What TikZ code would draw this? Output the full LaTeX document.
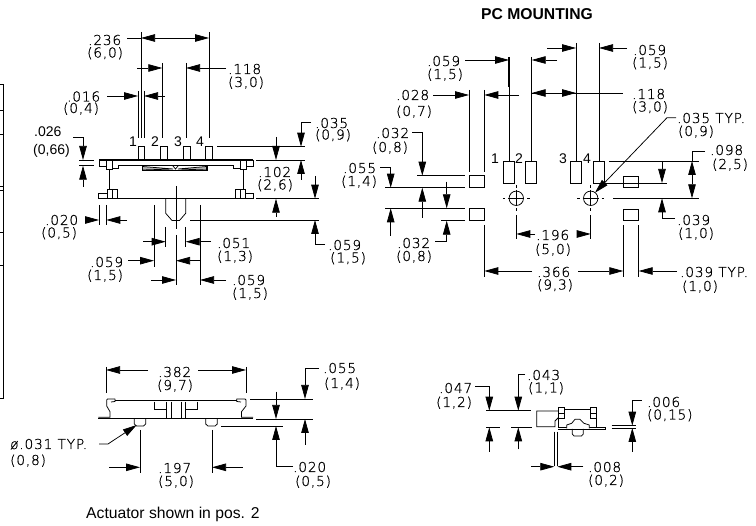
\documentclass[tikz,border=0pt]{standalone}
\usepackage{fontspec}
\setmainfont{Liberation Sans}
\newfontfamily\dimf[FakeBold=0.7,LetterSpace=6]{DejaVu Sans ExtraLight}
\usetikzlibrary{arrows.meta}
\tikzset{
  ln/.style={line width=0.75pt,black},
  thk/.style={line width=1.1pt,black},
  da/.style={line width=0.75pt,black,-{Triangle[length=14pt,width=7.5pt]}},
  dm/.style={anchor=base west,inner sep=0pt,font=\dimf\fontsize{13.7}{14}\selectfont},
  ar/.style={anchor=base west,inner sep=0pt,font=\fontsize{14}{14}\selectfont},
}
\newcommand{\lab}[4]{\node[dm] (#1) at (#2,#3) {#4};}
\newcommand{\arl}[4]{\node[ar] (#1) at (#2,#3) {#4};}
\begin{document}
\begin{tikzpicture}[x=1pt,y=-1pt]
\useasboundingbox (0,0) rectangle (756,526);
\fill[white] (0,0) rectangle (756,526);
% left edge
\draw[ln] (0,84)--(3,84)--(3,398)--(0,398);
\foreach \t in {110.7,134,186.7,190.7,232.7,265}{\draw[ln] (0,\t)--(3,\t);}

%% ---------- TOP LEFT VIEW
% body
\draw[thk] (99,160)--(253,160);
\draw[ln] (99,160)--(99,166)--(106,166);
\draw[ln] (253,160)--(253,166)--(246,166);
\draw[ln] (106,160) rectangle (112,169);
\draw[ln] (240,160) rectangle (246,169);
\draw[ln] (112,168.7)--(118.5,168.7)--(118.5,165)--(233,165)--(233,168.7)--(240,168.7);
% actuator
\draw[ln] (142,165) rectangle (207,170.7);
\draw[ln,fill=gray!60] (142.5,166.5)--(173,169)--(142.5,170)--cycle;
\draw[ln,fill=gray!60] (206.5,166.5)--(178,169)--(206.5,170)--cycle;
\draw[ln] (173,166)--(175.5,169)--(178,166);
% posts
\draw[ln] (109,169)--(109,189);
\draw[ln] (243,169)--(243,189);
% lower bar
\draw[thk] (98.5,198.7)--(253,198.7);
\draw[ln] (98.5,198.7)--(98.5,193)--(107,193);
\draw[ln] (253,198.7)--(253,193)--(245.7,193);
\draw[ln] (107,198.7)--(107,189)--(117,189)--(117,198.7);
\draw[ln] (112,189)--(112,198.7);
\draw[ln] (235.5,198.7)--(235.5,189)--(245.7,189)--(245.7,198.7);
\draw[ln] (240,189)--(240,198.7);
% pins
\foreach \xa in {138,160.3,183.5,205.7}{\draw[ln] (\xa,160)--(\xa,146.7)--(\xa+6.6,146.7)--(\xa+6.6,160);}
\arl{n1}{129}{147}{1}
\arl{n2}{151}{147}{2}
\arl{n3}{174}{147}{3}
\arl{n4}{196}{147}{4}
% lever
\draw[ln] (165.7,198.7)--(165.7,213.3)--(172,220.5)--(179.5,220.5)--(185.7,213.3)--(185.7,198.7);
\draw[ln] (176,186)--(176,229);
\draw[ln] (176,235)--(176,285);
% extension lines
\draw[ln] (141,32)--(141,138);
\draw[ln] (209,32)--(209,138);
\draw[ln] (162.3,63)--(162.3,138);
\draw[ln] (186,63)--(186,138);
\draw[ln] (138,91)--(138,138);
\draw[ln] (144,91)--(144,138);
% .236
\lab{t236}{88}{45}{.236}\lab{t236b}{87}{57.5}{(6,0)}
\draw[ln] (127,38)--(141,38);
\draw[da] (175,38)--(141,38);
\draw[da] (175,38)--(209,38);
% .118
\lab{t118}{228}{74}{.118}\lab{t118b}{228}{87}{(3,0)}
\draw[da] (137,68)--(162.3,68);
\draw[da] (226,68)--(186,68);
% .016
\lab{t016}{67}{101.5}{.016}\lab{t016b}{63}{113}{(0,4)}
\draw[da] (107,96)--(138,96);
\draw[da] (165,96)--(144,96);
% .026
\arl{t026}{34}{137}{.026}\arl{t026b}{33}{155}{(0,66)}
\draw[da] (73,137)--(83,137)--(83,160);
\draw[da] (83,187)--(83,165.7);
\draw[ln] (79,160)--(94,160);
\draw[ln] (79,165.7)--(94,165.7);
% .020
\lab{t020}{45}{225}{.020}\lab{t020b}{41}{237.5}{(0,5)}
\draw[ln] (99,205)--(99,225);
\draw[ln] (106.3,205)--(106.3,225);
\draw[da] (85,220)--(99,220);
\draw[da] (127,220)--(106.3,220);
% .051 .059
\draw[ln] (154,205)--(154,267);
\draw[ln] (200,205)--(200,285);
\draw[ln] (165.7,227)--(165.7,247);
\draw[ln] (185.7,227)--(185.7,247);
\lab{t051}{217}{248}{.051}\lab{t051b}{217}{261}{(1,3)}
\draw[da] (143,241.7)--(165.7,241.7);
\draw[da] (211,241.7)--(185.7,241.7);
\lab{t059a}{90}{267}{.059}\lab{t059ab}{87}{280}{(1,5)}
\draw[da] (128,260.7)--(154,260.7);
\draw[da] (200,260.7)--(176,260.7);
\lab{t059b}{232}{285}{.059}\lab{t059bb}{232}{298}{(1,5)}
\draw[da] (151,280)--(176,280);
\draw[da] (226,280)--(200,280);
% right side dims
\draw[ln] (217,146.7)--(305,146.7);
\draw[ln] (256,160)--(305,160);
\draw[ln] (256,198.7)--(319,198.7);
\draw[ln] (190,220)--(319,220);
\lab{t035}{315}{128}{.035}\lab{t035b}{315}{139.5}{(0,9)}
\draw[da] (311,122)--(301,122)--(301,146.7);
\draw[da] (301,180)--(301,160);
\draw[da] (276,137)--(276,160);
\draw[da] (276,217)--(276,198.7);
\lab{t102}{258}{177}{.102}\lab{t102b}{257}{189.5}{(2,6)}
\draw[da] (315,176)--(315,198.7);
\draw[da] (325,244)--(315,244)--(315,220);
\lab{t059c}{328}{250}{.059}\lab{t059cb}{330}{262.5}{(1,5)}

%% ---------- PC MOUNTING
\node[anchor=base,inner sep=0pt,font=\bfseries\fontsize{15.7}{16}\selectfont] (title) at (537,19.5) {PC MOUNTING};
\foreach \xa in {503,525.7,570.7,593}{\draw[ln] (\xa,161) rectangle (\xa+11,183);}
\arl{p1}{491}{164}{1}\arl{p2}{515}{164}{2}\arl{p3}{559}{164}{3}\arl{p4}{583}{164}{4}
% side pads
\foreach \xa/\ya/\yb in {469/175.5/187.7,469/208.3/220.5,623.3/176/187.7,623.3/209/220.5}{\draw[ln] (\xa,\ya) rectangle (\xa+15.4,\yb);}
% holes
\foreach \cx in {516.3,590.7}{
  \draw[ln] (\cx,198.3) circle (7.2);
  \draw[ln] (\cx-8,198.3)--(\cx+8,198.3);
  \draw[ln] (\cx,190)--(\cx,206.5);
  \draw[ln] (\cx-13.5,198.3)--(\cx-11,198.3);
  \draw[ln] (\cx+11,198.3)--(\cx+13.5,198.3);
  \draw[ln] (\cx,185)--(\cx,188);
  \draw[ln] (\cx,208.5)--(\cx,211.5);
  \draw[ln] (\cx,215)--(\cx,239);
}
% ext lines
\draw[ln] (469,90)--(469,172);
\draw[ln] (484.3,90)--(484.3,172);
\draw[thk] (509,57)--(509,87);
\draw[ln] (509,87)--(509,161);
\draw[ln] (531.7,57)--(531.7,161);
\draw[ln] (576,43)--(576,161);
\draw[ln] (599,43)--(599,161);
% .059 L
\lab{r059a}{427}{66}{.059}\lab{r059ab}{427}{79}{(1,5)}
\draw[da] (465,60)--(509,60);
\draw[da] (557,60)--(531.7,60);
% .059 R
\lab{r059b}{633}{55}{.059}\lab{r059bb}{632}{67.5}{(1,5)}
\draw[da] (547,48)--(576,48);
\draw[da] (627,48)--(599,48);
% .028
\lab{r028}{396}{100}{.028}\lab{r028b}{396}{116}{(0,7)}
\draw[da] (433,95)--(469,95);
\draw[da] (519,95)--(484.3,95);
% .118
\lab{r118}{632}{99}{.118}\lab{r118b}{632}{111.5}{(3,0)}
\draw[ln] (531.7,93)--(623,93);
\draw[da] (548,93)--(531.7,93);
\draw[da] (560,93)--(576,93);
% .035 TYP
\lab{r035}{677}{123}{.035 TYP.}\lab{r035b}{678}{136}{(0,9)}
\draw[da] (676,117.7)--(667,117.7)--(595,192.7);
% .098
\lab{r098}{710}{155}{.098}\lab{r098b}{712}{169}{(2,5)}
\draw[ln] (609,161)--(699,161);
\draw[ln] (613,198.3)--(699,198.3);
\draw[ln] (604,183)--(667,183);
\draw[ln] (705,151)--(692,151)--(692,161);
\draw[da] (692,180)--(692,161);
\draw[da] (692,180)--(692,198.3);
\draw[da] (662,161)--(662,183);
\draw[da] (675,218)--(662,218)--(662,198.3);
\lab{r039}{677}{225}{.039}\lab{r039b}{678}{238}{(1,0)}
% left stack
\draw[ln] (417,175.7)--(465,175.7);
\draw[ln] (385,187.7)--(465,187.7);
\draw[ln] (385,208.3)--(465,208.3);
\draw[ln] (441,220.7)--(465,220.7);
\lab{r032a}{376}{138}{.032}\lab{r032ab}{372}{152}{(0,8)}
\draw[da] (412,132)--(422.3,132)--(422.3,175.7);
\draw[da] (422.3,218)--(422.3,187.7);
\lab{r055}{343}{173}{.055}\lab{r055b}{341}{186}{(1,4)}
\draw[da] (380,167.3)--(390.7,167.3)--(390.7,187.7);
\draw[da] (390.7,235.7)--(390.7,208.3);
\draw[da] (446.7,181.7)--(446.7,208.3);
\draw[da] (435,241.7)--(446.7,241.7)--(446.7,220.7);
\lab{r032b}{397}{248}{.032}\lab{r032bb}{396}{261}{(0,8)}
% .196
\lab{r196}{536}{240}{.196}\lab{r196b}{535}{254}{(5,0)}
\draw[da] (535,234)--(516.3,234);
\draw[da] (577,234)--(590.7,234);
% .366
\draw[ln] (484.3,225)--(484.3,277);
\draw[ln] (623.3,225)--(623.3,277);
\draw[ln] (638.7,225)--(638.7,277);
\lab{r366}{537}{277}{.366}\lab{r366b}{537}{289.5}{(9,3)}
\draw[da] (532,271)--(484.3,271);
\draw[da] (578,271)--(623.3,271);
\draw[da] (677,271)--(638.7,271);
\lab{r039c}{680}{277}{.039 TYP.}\lab{r039cb}{682}{291}{(1,0)}

%% ---------- BOTTOM LEFT VIEW
\draw[ln] (106,367)--(106,393);
\draw[ln] (246,367)--(246,393);
\lab{b382}{158}{377}{.382}\lab{b382b}{157}{390}{(9,7)}
\draw[da] (148,370)--(106,370);
\draw[da] (198,370)--(246,370);
\draw[thk] (115,400.3)--(236.7,400.3);
\draw[ln] (115,399)--(107.5,399)--(106.7,400)--(106.7,406)--(110,411.7)--(110,417.3)--(98.3,417.3);
\draw[ln] (236.7,399)--(245,399)--(246,400)--(246,406)--(241.5,411.7)--(241.5,417.3)--(253,417.3);
\draw[ln] (115,399)--(115,401.5)--(111,402);
\draw[ln] (236.7,399)--(236.7,401.5)--(241,402);
\draw[thk] (98,418.7)--(253,418.7);
\draw[ln] (154.3,401.7)--(154.3,409.3)--(166.7,409.3);
\draw[ln] (197.3,401.7)--(197.3,409.3)--(185.3,409.3);
\draw[ln] (166.7,401.7)--(166.7,418);
\draw[ln] (171,401.7)--(171,418);
\draw[ln] (181,401.7)--(181,418);
\draw[ln] (185.3,401.7)--(185.3,418);
\draw[ln] (134.3,419)--(134.3,424)--(136.5,426)--(143.5,426)--(145.7,424)--(145.7,419);
\draw[ln] (205.7,419)--(205.7,424)--(207.9,426)--(215.1,426)--(217.3,424)--(217.3,419);
% dims
\draw[ln] (250,399)--(312.7,399);
\draw[ln] (256,419)--(312.7,419);
\draw[ln] (221,426)--(283,426);
\lab{b055}{323}{373}{.055}\lab{b055b}{324}{388}{(1,4)}
\draw[da] (319,368.3)--(305,368.3)--(305,399);
\draw[da] (305,445)--(305,419);
\draw[da] (276,391.7)--(276,419);
\draw[da] (293,466.7)--(276,466.7)--(276,426);
\lab{b020}{293}{472}{.020}\lab{b020b}{295}{486}{(0,5)}
\draw[ln] (140,430)--(140,473);
\draw[ln] (212,430)--(212,473);
\draw[da] (109.3,467.3)--(140,467.3);
\draw[da] (242.7,467.3)--(212,467.3);
\lab{b197}{158}{473}{.197}\lab{b197b}{158}{486}{(5,0)}
\lab{b031}{10}{449}{ø.031 TYP.}\lab{b031b}{10}{465}{(0,8)}
\draw[da] (99,444)--(108,444)--(136.7,425);
\node[anchor=base west,inner sep=0pt,font=\fontsize{15.7}{16}\selectfont] (cap) at (86,519) {Actuator shown in pos. 2};

%% ---------- BOTTOM RIGHT VIEW
\draw[ln] (486,410.7)--(531,410.7);
\draw[ln] (486,427.3)--(500,427.3);
\draw[ln] (511,427.3)--(532,427.3);
\lab{c047}{439}{393}{.047}\lab{c047b}{436}{407}{(1,2)}
\draw[da] (475.3,386)--(489.3,386)--(489.3,410.7);
\draw[da] (489.3,451.7)--(489.3,427.3);
\lab{c043}{527}{380}{.043}\lab{c043b}{528}{392.5}{(1,1)}
\draw[da] (525,374)--(518.3,374)--(518.3,410.7);
\draw[da] (518.3,449.3)--(518.3,427.3);
% part
\draw[ln] (558.3,411)--(536.7,411)--(536.7,426.7)--(555,426.7)--(555,421)--(558.3,417.7);
\draw[ln] (558.3,407.7) rectangle (564.3,418.3);
\draw[ln] (558.3,413)--(564.3,413);
\draw[ln] (590.7,407.7) rectangle (596.7,418.3);
\draw[ln] (590.7,413)--(596.7,413);
\draw[ln] (564.3,409)--(590.7,409);
\draw[ln] (558.3,418.3)--(558.3,427);
\draw[ln] (596.7,418.3)--(596.7,427);
\draw[thk] (558.3,427.3)--(605,427.3);
\draw[ln] (558.3,429)--(605,429)--(605,427);
\draw[ln,fill=white] (566.7,428.5)--(566.7,425)--(571.7,423.3)--(575,419.3)--(580,419.3)--(584,423.3)--(589.3,425)--(589.3,428.5);
\draw[ln] (572.3,429)--(572.3,434)--(574,436)--(581.5,436)--(583.3,434)--(583.3,429);
% dims
\draw[ln] (554.3,431.7)--(554.3,466);
\draw[ln] (557.3,431.7)--(557.3,466);
\draw[da] (531,466.7)--(554.3,466.7);
\draw[da] (583.3,466.7)--(557.3,466.7);
\lab{c008}{588}{472}{.008}\lab{c008b}{588}{485}{(0,2)}
\draw[ln] (611.7,425.7)--(636,425.7);
\draw[ln] (611.7,428)--(636,428);
\draw[da] (641.7,400.7)--(632.3,400.7)--(632.3,425.7);
\draw[da] (632.3,451.7)--(632.3,428);
\lab{c006}{647}{407}{.006}\lab{c006b}{647}{419.5}{(0,15)}
\end{tikzpicture}
\end{document}
